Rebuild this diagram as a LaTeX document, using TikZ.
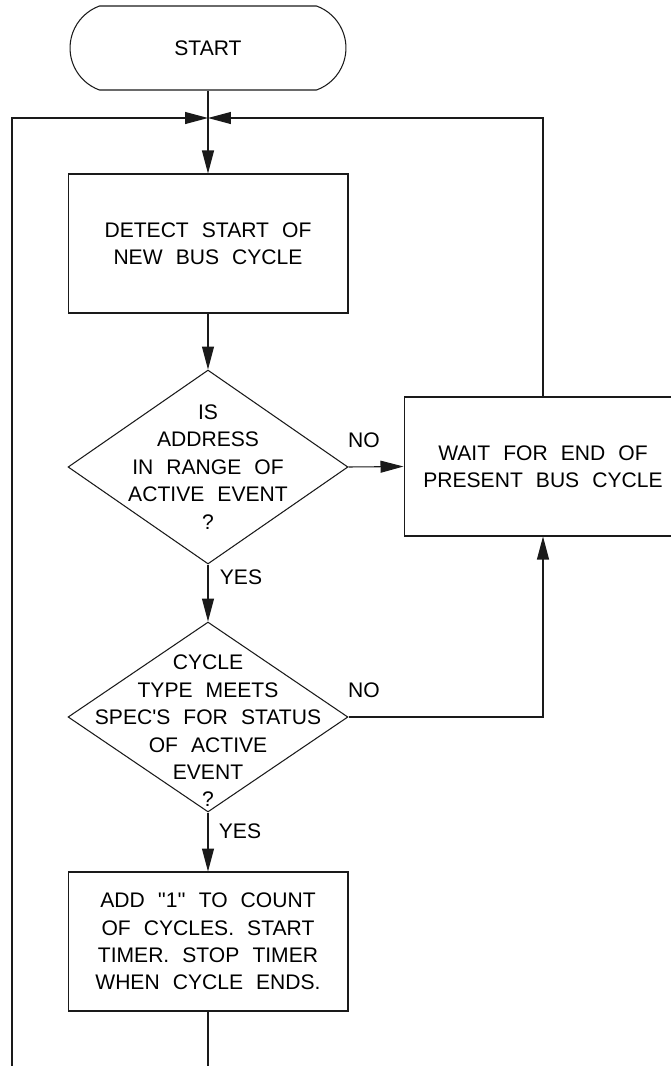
\documentclass[tikz,border=0pt]{standalone}
\usepackage{fontspec}
\setmainfont{Liberation Sans}
\usepackage{tikz}
\usetikzlibrary{arrows.meta,positioning,shapes.geometric,shapes.misc}
\definecolor{ink}{HTML}{1A1A1A}
\newcommand{\flowfont}{\fontsize{12}{15.6}\selectfont\spaceskip=0.62em\relax}
\newcommand{\tick}{\textquotesingle\textquotesingle}
\tikzset{
  termbox/.style  ={draw=ink, line width=0.6pt, rounded rectangle,
                    rounded rectangle arc length=140,
                    minimum width=5.52cm, minimum height=1.68cm,
                    inner sep=0pt, font=\flowfont},
  procbox/.style  ={draw=ink, line width=0.6pt,
                    minimum width=5.6cm, minimum height=2.78cm,
                    inner sep=0pt, align=center, font=\flowfont},
  decision/.style ={draw=ink, line width=0.6pt, diamond,
                    minimum width=5.6cm, inner sep=0pt},
  flowtxt/.style  ={align=center, font=\flowfont, inner sep=0pt},
  flowlbl/.style  ={font=\flowfont, inner sep=0pt},
  flowline/.style ={line width=0.6pt, color=ink},
  flowarr/.style  ={-{Triangle[length=0.46cm,width=0.24cm]}, line width=0.6pt, color=ink},
}

\begin{document}
\begin{tikzpicture}[x=0.02cm,y=-0.02cm]
    \useasboundingbox (0,0) rectangle (671,1066);

    % main column
    \node[termbox]                     (start) at (208,48)  {START};
    \coordinate                        (join)  at (208,118);
    \node[procbox]                     (detect) at (208,243.5) {DETECT START OF\\NEW BUS CYCLE};
    \node[decision,minimum height=3.88cm] (addr) at (208,467) {};
    \node[flowtxt]                     (addrtxt) at (208,467)
      {IS\\ADDRESS\\IN RANGE OF\\ACTIVE EVENT\\?};
    \node[decision,minimum height=3.8cm]  (cyc)  at (208,717) {};
    \node[flowtxt]                     (cyctxt) at (208,731)
      {CYCLE\\TYPE MEETS\\SPEC\textquotesingle S FOR STATUS\\OF ACTIVE\\EVENT\\?};
    \node[procbox]                     (count) at (208,941.5)
      {ADD \tick1\tick{} TO COUNT\\OF CYCLES. START\\TIMER. STOP TIMER\\WHEN CYCLE ENDS.};

    % side box
    \node[procbox,minimum width=5.56cm] (wait) at (543,466.5)
      {WAIT FOR END OF\\PRESENT BUS CYCLE};

    \node[flowlbl] (no1)  at (364,440) {NO};
    \node[flowlbl] (no2)  at (364,690) {NO};
    \node[flowlbl] (yes1) at (241,577) {YES};
    \node[flowlbl] (yes2) at (240,831) {YES};

    \coordinate (loopbot) at (12,1066);
    \coordinate (mainbot) at (208,1066);

    \draw[flowline] (start.south) -- (join);
    \draw[flowarr]  (join) -- (detect.north);
    \draw[flowarr]  (detect.south) -- (addr.north);
    \draw[flowarr]  (addr.south) -- (cyc.north);
    \draw[flowarr]  (cyc.south) -- (count.north);
    \draw[flowline] (count.south) -- (mainbot);

    \draw[flowarr]  (addr.east) -- (wait.west);
    \draw[flowarr]  (cyc.east) -| (wait.south);
    \draw[flowarr]  (wait.north) |- (join);

    % return loop
    \draw[flowarr]  (loopbot) |- (join);
  \end{tikzpicture}
\end{document}
